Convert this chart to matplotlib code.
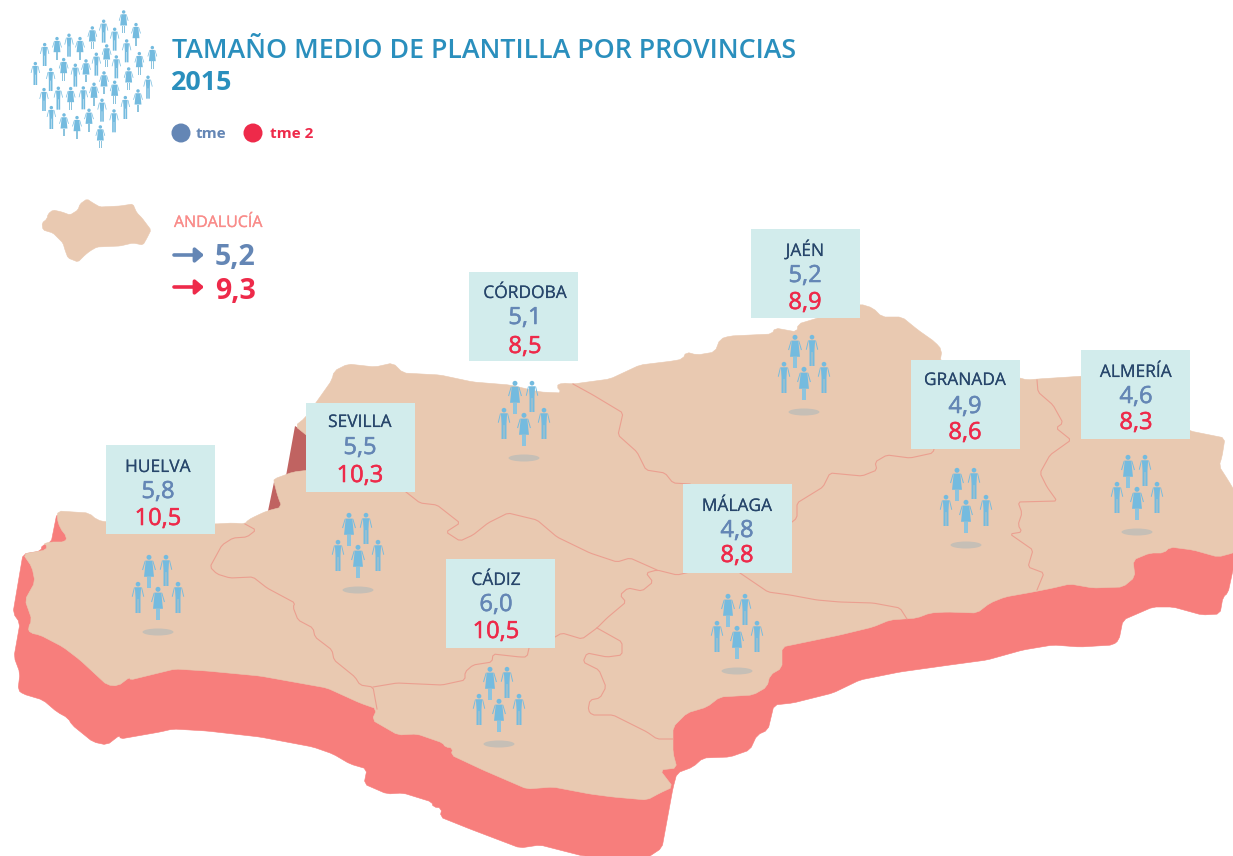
import matplotlib
matplotlib.use('Agg')
import math
import matplotlib.pyplot as plt
import matplotlib.patheffects as pe
from matplotlib.patches import Polygon, Circle, Ellipse, Rectangle, FancyArrowPatch

plt.rcParams['font.family'] = ['Open Sans', 'DejaVu Sans']

# Data
provincias = ['HUELVA', 'SEVILLA', 'CÓRDOBA', 'JAÉN', 'GRANADA', 'ALMERÍA', 'MÁLAGA', 'CÁDIZ']
tme = [5.8, 5.5, 5.1, 5.2, 4.9, 4.6, 4.8, 6.0]
tme2 = [10.5, 10.3, 8.5, 8.9, 8.6, 8.3, 8.8, 10.5]
andalucia_tme = 5.2
andalucia_tme2 = 9.3

# Layout in picture pixels
box_left = [106, 306, 469, 751, 911, 1081, 683, 446]
box_top = [445, 403, 272, 229, 360, 350, 484, 559]
text_x = [158, 360, 525, 805, 965, 1136, 737, 496]
name_y = [472, 427, 298, 256, 385, 377, 511, 585]
val_y = [498, 454, 324, 282, 413, 403, 537, 611]
val2_y = [525, 482, 353, 309, 439, 429, 562, 638]
shadow_x = [158, 358, 524, 804, 966, 1137, 737, 499]
shadow_y = [632, 590, 458, 412, 545, 532, 671, 744]

# Map outlines
land = [(23, 554), (46, 550), (47, 545), (43, 544), (50, 542), (65, 542), (67, 537), (60, 528), (57, 518), (58, 511),
        (89, 513), (97, 520), (106, 522), (215, 524), (233, 523), (245, 524), (248, 520), (258, 515), (267, 511),
        (282, 507), (278, 497), (274, 482), (274, 479), (293, 472), (310, 470), (310, 438), (295, 426), (305, 418),
        (320, 397), (332, 380), (334, 371), (348, 364), (375, 367), (393, 363), (403, 373), (440, 375), (473, 382),
        (510, 385), (540, 392), (562, 393), (556, 386), (562, 383), (573, 384), (610, 379), (640, 365), (673, 361),
        (683, 359), (686, 352), (697, 355), (715, 352), (720, 339), (730, 336), (772, 334), (775, 328), (797, 332),
        (798, 324), (818, 318), (840, 310), (860, 304), (873, 308), (882, 317), (902, 317), (918, 330), (935, 342),
        (942, 350), (940, 362), (1020, 378), (1027, 380), (1038, 379), (1085, 376), (1190, 431), (1225, 438),
        (1222, 457), (1219, 466), (1228, 480), (1240, 500), (1240, 550), (1233, 553), (1218, 557), (1193, 550),
        (1170, 547), (1164, 553), (1150, 553), (1133, 560), (1135, 577), (1123, 587), (1093, 588), (1070, 584),
        (1053, 588), (1033, 592), (1005, 597), (990, 603), (977, 613), (947, 612), (930, 613), (917, 618), (890, 620),
        (873, 627), (840, 635), (782, 647), (782, 668), (770, 675), (767, 687), (753, 695), (720, 697), (707, 707),
        (687, 713), (673, 727), (673, 753), (677, 768), (660, 770), (673, 787), (660, 793), (647, 800), (613, 797),
        (590, 794), (553, 787), (527, 789), (483, 770), (451, 755), (453, 748), (445, 747), (443, 743), (417, 734),
        (398, 735), (372, 720), (377, 709), (360, 703), (327, 688), (260, 676), (207, 671), (175, 669), (130, 680),
        (130, 677), (118, 686), (107, 685), (80, 660), (63, 647), (40, 635), (30, 633), (28, 628), (32, 620),
        (25, 600), (35, 582), (32, 567)]

wall = [(57, 513), (51, 543), (42, 545), (41, 551), (23, 554), (13, 613), (20, 623), (14, 657), (20, 673), (18, 690),
        (23, 694), (43, 700), (57, 712), (68, 718), (72, 725), (93, 742), (107, 745), (120, 735), (120, 739),
        (160, 732), (173, 729), (207, 731), (260, 737), (313, 747), (333, 754), (350, 764), (367, 769), (364, 784),
        (387, 794), (403, 793), (432, 802), (433, 807), (442, 808), (440, 817), (470, 829), (520, 848), (540, 845),
        (583, 856), (647, 858), (662, 848), (673, 788), (677, 773), (693, 767), (703, 758), (730, 757), (750, 750),
        (757, 735), (768, 730), (774, 705), (793, 703), (833, 693), (860, 680), (900, 672), (950, 665), (987, 660),
        (1023, 650), (1053, 645), (1080, 647), (1113, 645), (1119, 640), (1123, 620), (1153, 607), (1173, 607),
        (1202, 615), (1220, 614), (1223, 597), (1228, 593), (1233, 570), (1240, 540), (1100, 500), (300, 600)]

dark_a = [(295, 426), (286, 476), (315, 476), (315, 438)]
dark_b = [(274, 482), (268, 511), (285, 508), (280, 490)]

borders = [
    [(245, 524), (256, 530), (247, 537), (233, 538), (222, 545), (210, 567), (217, 574), (230, 578), (253, 577),
     (267, 588), (295, 603), (293, 607), (298, 620), (313, 628), (315, 637), (332, 650), (334, 660), (355, 677),
     (360, 685), (373, 687), (377, 709)],
    [(373, 687), (397, 683), (442, 685), (465, 680), (465, 672), (473, 665), (492, 662), (493, 654), (520, 657),
     (527, 657), (529, 648)],
    [(555, 637), (562, 633), (582, 639), (597, 628), (607, 618), (626, 602), (620, 595), (628, 588), (642, 591),
     (653, 582), (646, 573), (657, 570), (677, 575), (690, 572)],
    [(597, 628), (622, 642), (622, 655), (607, 657), (587, 653), (583, 662), (599, 670), (606, 687), (600, 698),
     (590, 700), (588, 710), (592, 715), (613, 715), (647, 732), (657, 739), (673, 739)],
    [(406, 492), (420, 503), (437, 505), (460, 523), (446, 532), (460, 541), (473, 535), (488, 523), (508, 513),
     (537, 520), (557, 537), (590, 553), (617, 562), (630, 558), (657, 570)],
    [(573, 384), (593, 395), (623, 413), (618, 435), (637, 452), (646, 470), (665, 473), (673, 483), (690, 484)],
    [(792, 522), (797, 518), (797, 503), (823, 487), (830, 473), (862, 476), (877, 470), (875, 462), (887, 455),
     (910, 458), (933, 453), (935, 445)],
    [(740, 573), (768, 592), (790, 595), (817, 600), (840, 602), (873, 603), (900, 608), (907, 619)],
    [(1037, 380), (1038, 392), (1053, 405), (1063, 423), (1056, 428), (1071, 440), (1050, 455), (1040, 473),
     (1047, 487), (1057, 501), (1018, 502), (1022, 513), (1018, 525), (1022, 532), (1010, 534), (1033, 550),
     (1028, 567), (1044, 573), (1037, 590)],
]

mini_map = [(42, 223), (47, 219), (48, 214), (53, 210), (62, 212), (70, 215), (78, 210), (80, 204), (87, 199),
            (93, 203), (100, 207), (120, 206), (133, 204), (135, 209), (137, 213), (142, 218), (145, 222),
            (151, 230), (147, 238), (143, 245), (133, 243), (120, 246), (97, 247), (90, 251), (85, 255), (78, 262),
            (68, 258), (65, 250), (63, 243), (53, 233), (43, 230)]

# People of the logo (x, head top y, kind), measured on a 3x crop
crowd = [(371, 31, 'F'), (311, 59, 'M'), (408, 69, 'F'), (277, 79, 'F'), (344, 83, 'M'), (207, 101, 'M'),
         (171, 111, 'F'), (240, 111, 'F'), (380, 118, 'M'), (134, 129, 'M'), (320, 133, 'F'), (457, 138, 'F'),
         (289, 158, 'M'), (418, 156, 'F'), (349, 166, 'M'), (191, 174, 'F'), (258, 178, 'F'), (106, 186, 'M'),
         (226, 191, 'M'), (152, 204, 'M'), (386, 202, 'F'), (312, 214, 'F'), (444, 227, 'M'), (344, 242, 'F'),
         (282, 248, 'F'), (132, 264, 'M'), (175, 260, 'M'), (212, 261, 'F'), (250, 259, 'M'), (414, 268, 'F'),
         (376, 288, 'M'), (306, 296, 'M'), (154, 318, 'M'), (342, 328, 'M'), (267, 326, 'F'), (192, 340, 'F'),
         (231, 348, 'F'), (301, 376, 'F')]

# Group of five people, offsets from the shadow
group = [(-9, -77, 'F'), (8, -77, 'M'), (-20, -50, 'M'), (0, -45, 'F'), (20, -50, 'M')]

# Colours
BLUE = '#6486b5'
RED = '#ee2a4a'
LAND = '#e9c9b1'
WALL = '#f77e7c'
DARK = '#c06361'
BOX = '#d2ecec'
NAME = '#27466b'
PERSON = '#74bbdf'
TITLE = '#2a8fbd'
SHADOW = '#c6bfb6'
LINE = '#eb9f90'


def coma(v):
    return f'{v:.1f}'.replace('.', ',')


def round_off(pts, closed=True, cut=3.0):
    # cut each corner by a small fixed distance so long edges keep their place
    n = len(pts)
    new = [] if closed else [pts[0]]
    for i in range(n if closed else n - 1):
        a, b = pts[i], pts[(i + 1) % n]
        d = math.hypot(b[0] - a[0], b[1] - a[1])
        t = min(cut / d, 0.3) if d > 0 else 0
        new.append((a[0] + t * (b[0] - a[0]), a[1] + t * (b[1] - a[1])))
        new.append((b[0] - t * (b[0] - a[0]), b[1] - t * (b[1] - a[1])))
    if not closed:
        new.append(pts[-1])
    return new


def heavy(width, color):
    return [pe.withStroke(linewidth=width, foreground=color)]


def person(ax, x, y, h, kind):
    # shape in units of 1/100 of the height, y from head top
    s = h / 100
    def P(pts, color=PERSON):
        ax.add_patch(Polygon([(x + a * s, y + b * s) for a, b in pts], closed=True, fc=color, ec='none', zorder=6))
    ax.add_patch(Circle((x, y + 7 * s), 7.5 * s, fc=PERSON, ec='none', zorder=6))
    if kind == 'F':
        P([(-10, 17), (10, 17), (15, 66), (-15, 66)])
        P([(-10, 17), (-13, 18), (-21, 45), (-18, 46)])
        P([(10, 17), (13, 18), (21, 45), (18, 46)])
        P([(-6, 66), (-1, 66), (-1, 100), (-6, 100)], '#8cc4de')
        P([(1, 66), (6, 66), (6, 100), (1, 100)], '#8cc4de')
    else:
        P([(-10, 17), (10, 17), (8, 50), (8, 100), (1, 100), (1, 55), (-1, 55), (-1, 100), (-8, 100), (-8, 50)])
        P([(-10, 17), (-13, 18), (-20, 47), (-17, 48)])
        P([(10, 17), (13, 18), (20, 47), (17, 48)])


fig = plt.figure(figsize=(12.33, 8.56), dpi=100)
ax = fig.add_axes([0, 0, 1, 1])
ax.set_xlim(0, 1233)
ax.set_ylim(856, 0)
ax.axis('off')

# Map
ax.add_patch(Polygon(round_off(wall), closed=True, fc=WALL, ec=WALL, lw=0.4, zorder=1))
ax.add_patch(Polygon(dark_a, closed=True, fc=DARK, ec='none', zorder=1.5))
ax.add_patch(Polygon(dark_b, closed=True, fc=DARK, ec='none', zorder=1.5))
ax.add_patch(Polygon(round_off(land), closed=True, fc=LAND, ec=LAND, lw=0.4, zorder=2))
for b in borders:
    b = round_off(b, closed=False, cut=2.0)
    ax.plot([p[0] for p in b], [p[1] for p in b], color=LINE, lw=0.8, zorder=3)

# Province boxes
for i, nombre in enumerate(provincias):
    ax.add_patch(Rectangle((box_left[i], box_top[i]), 109, 89, fc=BOX, ec='none', zorder=4))
    ax.text(text_x[i], name_y[i], nombre, color=NAME, fontsize=12.5, ha='center', va='baseline', zorder=5,
            path_effects=heavy(0.1, NAME))
    ax.text(text_x[i], val_y[i], coma(tme[i]), color=BLUE, fontsize=17, ha='center', va='baseline', zorder=5,
            path_effects=heavy(0.4, BLUE))
    ax.text(text_x[i], val2_y[i], coma(tme2[i]), color=RED, fontsize=17, ha='center', va='baseline', zorder=5,
            path_effects=heavy(0.4, RED))
    ax.add_patch(Ellipse((shadow_x[i], shadow_y[i]), 31, 7, fc=SHADOW, ec='none', zorder=5))
    for dx, dy, kind in group:
        person(ax, shadow_x[i] + dx, shadow_y[i] + dy, 33 if kind == 'F' else 31, kind)

# Logo
for x, y, kind in crowd:
    person(ax, x / 3, y / 3, 23, kind)

# Title
ax.text(172, 58, 'TAMAÑO MEDIO DE PLANTILLA POR PROVINCIAS', color=TITLE, fontsize=19.3, fontweight='semibold',
        ha='left', va='baseline')
ax.text(171, 90, '2015', color=TITLE, fontsize=19.3, fontweight='bold', ha='left', va='baseline')

# Legend
ax.add_patch(Circle((181, 133), 9.5, fc=BLUE, ec='none'))
ax.add_patch(Circle((253, 133), 9.5, fc=RED, ec='none'))
ax.text(196, 138, 'tme', color=BLUE, fontsize=11, fontweight='bold', ha='left', va='baseline')
ax.text(270, 138, 'tme 2', color=RED, fontsize=11, fontweight='bold', ha='left', va='baseline')

# Andalucia summary
ax.add_patch(Polygon(round_off(mini_map, cut=1.5), closed=True, fc=LAND, ec=LAND, lw=0.4))
ax.text(174, 227, 'ANDALUCÍA', color='#f98c8a', fontsize=11.5, ha='left', va='baseline',
        path_effects=heavy(0.2, '#f98c8a'))
for y, color, v, base in [(255, BLUE, andalucia_tme, 265), (287, RED, andalucia_tme2, 299)]:
    ax.add_patch(FancyArrowPatch((174, y), (204, y), arrowstyle='-|>,head_length=3.5,head_width=3', color=color,
                                 lw=2.6, shrinkA=0, shrinkB=0, mutation_scale=1.4))
    ax.text(215, base, coma(v), color=color, fontsize=20.5, fontweight='bold', ha='left', va='baseline')

fig.savefig('out.png', dpi=100)
plt.close(fig)
